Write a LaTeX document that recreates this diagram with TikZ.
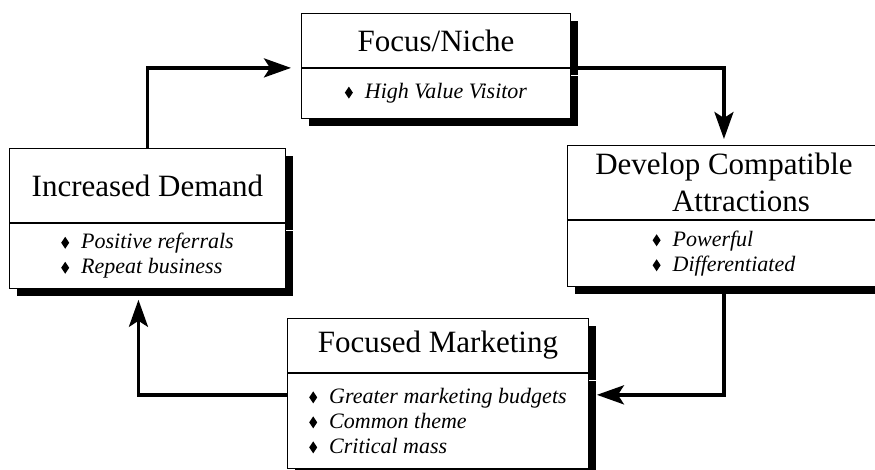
\documentclass[tikz,border=0pt]{standalone}
\usepackage{fontspec}
\setmainfont{Liberation Serif}
\usepackage{tikz}
\usetikzlibrary{arrows.meta,shadows}

\newcommand{\bul}{\tikz\fill (0pt,5pt)--(4pt,11pt)--(8pt,5pt)--(4pt,-1pt)--cycle;\hspace{12pt}}

\begin{document}
\begin{tikzpicture}[
  hdr/.style={draw, fill=white, line width=0.9pt, inner sep=2pt, align=center,
    font=\fontsize{31}{37}\selectfont,
    drop shadow={shadow xshift=8pt, shadow yshift=-8pt, fill=black, opacity=1}},
  lst/.style={hdr, align=left, font=\itshape\fontsize{22}{25}\selectfont},
  flow/.style={line width=3.5pt, -{Stealth[length=27pt, width=19pt, inset=6pt]}}]
  \useasboundingbox (0pt, 0pt) rectangle (875pt, -469pt);
  \clip (0pt, 0pt) rectangle (875pt, -469pt);
  \draw (301.0pt, -13.0pt)node[hdr, anchor=north west, minimum width=269pt, minimum height=54pt](focus){Focus/Niche};
  \draw (focus.south)node[lst, anchor=north, minimum width=269pt, minimum height=50pt](focuslist){\bul High Value Visitor};
  \draw (9.0pt, -148.0pt)node[hdr, anchor=north west, minimum width=276pt, minimum height=74pt](demand){Increased Demand};
  \draw (demand.south)node[lst, anchor=north, minimum width=276pt, minimum height=65pt](demandlist){\bul Positive referrals\\ \bul Repeat business};
  \draw (567.0pt, -145.0pt)node[hdr, anchor=north west, minimum width=313pt, minimum height=74pt](attract){Develop Compatible\\ \hspace*{34pt}Attractions};
  \draw (attract.south)node[lst, anchor=north, minimum width=313pt, minimum height=66pt](attractlist){\bul Powerful\\ \bul Differentiated};
  \draw (287.0pt, -318.0pt)node[hdr, anchor=north west, minimum width=301pt, minimum height=54pt](market){Focused Marketing};
  \draw (market.south)node[lst, anchor=north, minimum width=301pt, minimum height=95pt](marketlist){\bul Greater marketing budgets\\ \bul Common theme\\ \bul Critical mass};
  \draw[flow, shorten >=10pt] (demand.north) |- (focus.south west);
  \draw[flow, shorten >=6pt] (focus.south east) -| (attract.north);
  \draw[flow] (attractlist.south) |- ([xshift=8pt, yshift=26pt]marketlist.east);
  \draw[flow, shorten >=11pt] ([yshift=26pt]marketlist.west) -| ([xshift=-9pt]demandlist.south);
\end{tikzpicture}
\end{document}
